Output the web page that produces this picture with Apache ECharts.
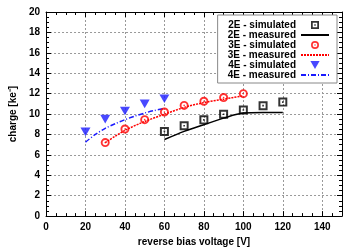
<!DOCTYPE html>
<html><head><meta charset="utf-8">
<script src="https://cdn.jsdelivr.net/npm/echarts@6/dist/echarts.min.js"></script>
<style>html,body{margin:0;padding:0;background:#fff}#c{width:360px;height:252px}</style>
</head><body><div id="c"></div>
<script>
const x2sim = [60, 70, 80, 90, 100, 110, 120];
const y2sim = [8.3, 8.85, 9.43, 9.98, 10.4, 10.82, 11.17];
const x2meas = [60, 70, 80, 90, 100, 110, 120];
const y2meas = [7.5, 8.3, 8.95, 9.6, 10.1, 10.15, 10.15];
const x3sim = [30, 40, 50, 60, 70, 80, 90, 100];
const y3sim = [7.2, 8.53, 9.45, 10.2, 10.85, 11.25, 11.62, 12.0];
const x3meas = [30, 40, 50, 60, 70, 80, 90, 100];
const y3meas = [7.2, 8.4, 9.27, 9.98, 10.65, 11.12, 11.46, 11.78];
const x4sim = [20, 30, 40, 50, 60];
const y4sim = [8.25, 9.5, 10.3, 11.0, 11.5];
const x4meas = [20, 25, 30, 35, 40, 45, 50, 55, 60];
const y4meas = [7.25, 8.0, 8.6, 9.05, 9.45, 9.8, 10.1, 10.35, 10.55];
const names = ['2E - simulated', '2E - measured', '3E - simulated', '3E - measured', '4E - simulated', '4E - measured'];

const zip = (xs, ys) => xs.map((x, i) => [x, ys[i]]);
const squarePath = 'path://M0,0H10V10H0Z M2.2,2.2V7.8H7.8V2.2Z M4.1,4.1H5.9V5.9H4.1Z';
const circlePath = 'path://M5,0A5,5 0 1,1 5,10A5,5 0 1,1 5,0Z M5,2.1A2.9,2.9 0 1,0 5,7.9A2.9,2.9 0 1,0 5,2.1Z M5,4.1A0.9,0.9 0 1,1 5,5.9A0.9,0.9 0 1,1 5,4.1Z';
const triPath = 'path://M0,0H10L5,8.7Z';
const font = 'Liberation Sans';
const lbl = {fontFamily: font, fontWeight: 'bold', fontSize: 10, color: '#000'};
const clear = 'rgba(0,0,0,0)';
const chart = echarts.init(document.getElementById('c'), null, {renderer: 'canvas'});
const baseX = {
  type: 'value', min: 0, max: 150, interval: 20,
  axisLine: {show: true, onZero: false, lineStyle: {color: '#000', width: 1}},
  axisTick: {show: true, inside: true, length: 5, lineStyle: {color: '#000'}},
  minorTick: {show: true, splitNumber: 4, length: 3, lineStyle: {color: '#000'}},
  splitLine: {show: false}
};
const baseY = {
  type: 'value', min: 0, max: 20, interval: 2,
  axisLine: {show: true, onZero: false, lineStyle: {color: '#000', width: 1}},
  axisTick: {show: true, inside: true, length: 5, lineStyle: {color: '#000'}},
  minorTick: {show: true, splitNumber: 4, length: 3, lineStyle: {color: '#000'}},
  splitLine: {show: false}
};
chart.setOption({
  animation: false,
  grid: {left: 43, right: 18, top: 12, bottom: 33, show: false},
  xAxis: [
    Object.assign({}, baseX, {position: 'bottom',
      name: 'reverse bias voltage [V]', nameLocation: 'middle', nameGap: 20,
      nameTextStyle: Object.assign({}, lbl),
      axisLabel: Object.assign({}, lbl, {margin: 6, showMaxLabel: false}),
      splitLine: {show: true, lineStyle: {color: '#999', type: [2, 2], width: 1}}}),
    Object.assign({}, baseX, {position: 'top', axisLabel: {show: false}})
  ],
  yAxis: [
    Object.assign({}, baseY, {position: 'left',
      name: 'charge [ke\u207B]', nameLocation: 'middle', nameGap: 27, nameRotate: 90,
      nameTextStyle: Object.assign({}, lbl),
      axisLabel: Object.assign({}, lbl, {margin: 6}),
      splitLine: {show: true, lineStyle: {color: '#999', type: [2, 2], width: 1}}}),
    Object.assign({}, baseY, {position: 'right', axisLabel: {show: false}})
  ],
  legend: {
    data: names, orient: 'vertical', align: 'right',
    right: 23, top: 15, padding: [5, 7, 3, 10],
    itemWidth: 28, itemHeight: 8, itemGap: 0,
    backgroundColor: '#fff', borderColor: '#888', borderWidth: 1,
    textStyle: Object.assign({}, lbl, {lineHeight: 10})
  },
  series: [
    {name: names[0], type: 'scatter', data: zip(x2sim, y2sim), symbol: squarePath, symbolSize: 9,
     symbolKeepAspect: true, itemStyle: {color: '#000'}, z: 5},
    {name: names[1], type: 'line', data: zip(x2meas, y2meas), showSymbol: false, symbol: 'circle', smooth: 0.3,
     lineStyle: {color: '#000', width: 1.5, type: 'solid'}, itemStyle: {color: clear, borderColor: clear}},
    {name: names[2], type: 'scatter', data: zip(x3sim, y3sim), symbol: circlePath, symbolSize: 9,
     symbolKeepAspect: true, itemStyle: {color: '#ff0000'}, z: 5},
    {name: names[3], type: 'line', data: zip(x3meas, y3meas), showSymbol: false, symbol: 'circle', smooth: 0.3,
     lineStyle: {color: '#ff0000', width: 1.5, type: [2, 1]}, itemStyle: {color: clear, borderColor: clear}},
    {name: names[4], type: 'scatter', data: zip(x4sim, y4sim), symbol: triPath, symbolSize: 10,
     symbolKeepAspect: true, itemStyle: {color: '#1a1aff'}, z: 5},
    {name: names[5], type: 'line', data: zip(x4meas, y4meas), showSymbol: false, symbol: 'circle', smooth: 0.3,
     lineStyle: {color: '#1a1aff', width: 1.5, type: [5, 2, 1, 2]}, itemStyle: {color: clear, borderColor: clear}}
  ]
});
</script></body></html>
